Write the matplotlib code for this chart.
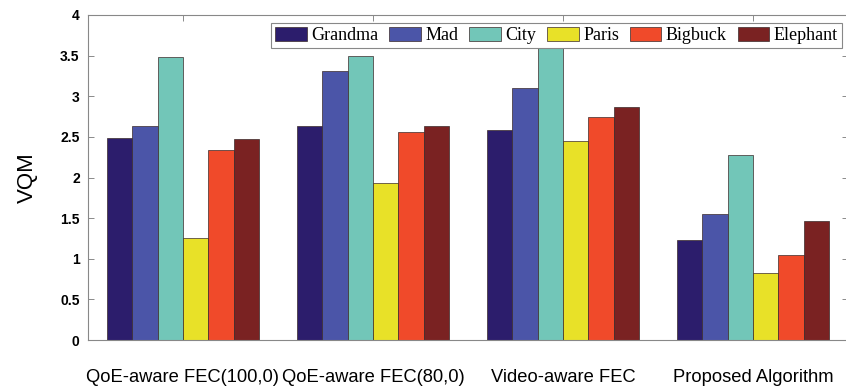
import matplotlib
matplotlib.use("Agg")
import matplotlib.pyplot as plt
import numpy as np

categories = ["QoE-aware FEC(100,0)", "QoE-aware FEC(80,0)", "Video-aware FEC", "Proposed Algorithm"]
series_names = ["Grandma", "Mad", "City", "Paris", "Bigbuck", "Elephant"]
grandma = [2.49, 2.63, 2.58, 1.23]
mad = [2.63, 3.31, 3.10, 1.55]
city = [3.48, 3.50, 3.68, 2.28]
paris = [1.26, 1.93, 2.45, 0.83]
bigbuck = [2.34, 2.56, 2.74, 1.05]
elephant = [2.47, 2.63, 2.87, 1.46]
yticks = [0, 0.5, 1, 1.5, 2, 2.5, 3, 3.5, 4]
ytick_labels = ["0", "0.5", "1", "1.5", "2", "2.5", "3", "3.5", "4"]

colors = ["#2c1d6c", "#4b55a8", "#72c6b8", "#e8e128", "#f04a2a", "#7a2222"]
series = [grandma, mad, city, paris, bigbuck, elephant]

W, H = 846, 388
fig = plt.figure(figsize=(W / 100, H / 100), dpi=100)
ax = fig.add_axes([88 / W, 1 - 340 / H, (848 - 88) / W, (340 - 15) / H])

x = np.arange(1, len(categories) + 1)
n = len(series)
bw = 0.8 / n
for i, (vals, name, c) in enumerate(zip(series, series_names, colors)):
    ax.bar(x - 0.4 + bw * (i + 0.5), vals, width=bw, color=c, edgecolor="#3a2a2a",
           linewidth=0.5, label=name, zorder=2)

ax.set_xlim(0.5, 4.5)
ax.set_ylim(0, 4)
ax.set_yticks(yticks)
ax.set_yticklabels(ytick_labels, fontsize=10, fontweight="bold", family="Liberation Sans")
ax.set_xticks(x)
ax.set_xticklabels(categories, fontsize=13.2, family="Liberation Sans")
ax.tick_params(axis="y", direction="in", right=True, length=4, width=0.6, color="#777777", pad=6)
ax.tick_params(axis="x", direction="in", top=True, length=4, width=0.6, color="#777777", pad=21)
for s in ax.spines.values():
    s.set_color("#888888")
    s.set_linewidth(0.8)
ax.set_ylabel("VQM", fontsize=16, family="Liberation Sans", labelpad=16)

leg = ax.legend(ncol=6, loc="upper right", bbox_to_anchor=(842 / W, 1 - 23 / H),
                bbox_transform=fig.transFigure, prop={"family": "Liberation Serif", "size": 13},
                handlelength=1.75, handleheight=0.78, handletextpad=0.25, columnspacing=0.6,
                borderpad=0.22, borderaxespad=0, fancybox=False, framealpha=1, edgecolor="#888888")
leg.get_frame().set_linewidth(0.8)
leg.set_zorder(5)

fig.savefig("out.png", dpi=100)
